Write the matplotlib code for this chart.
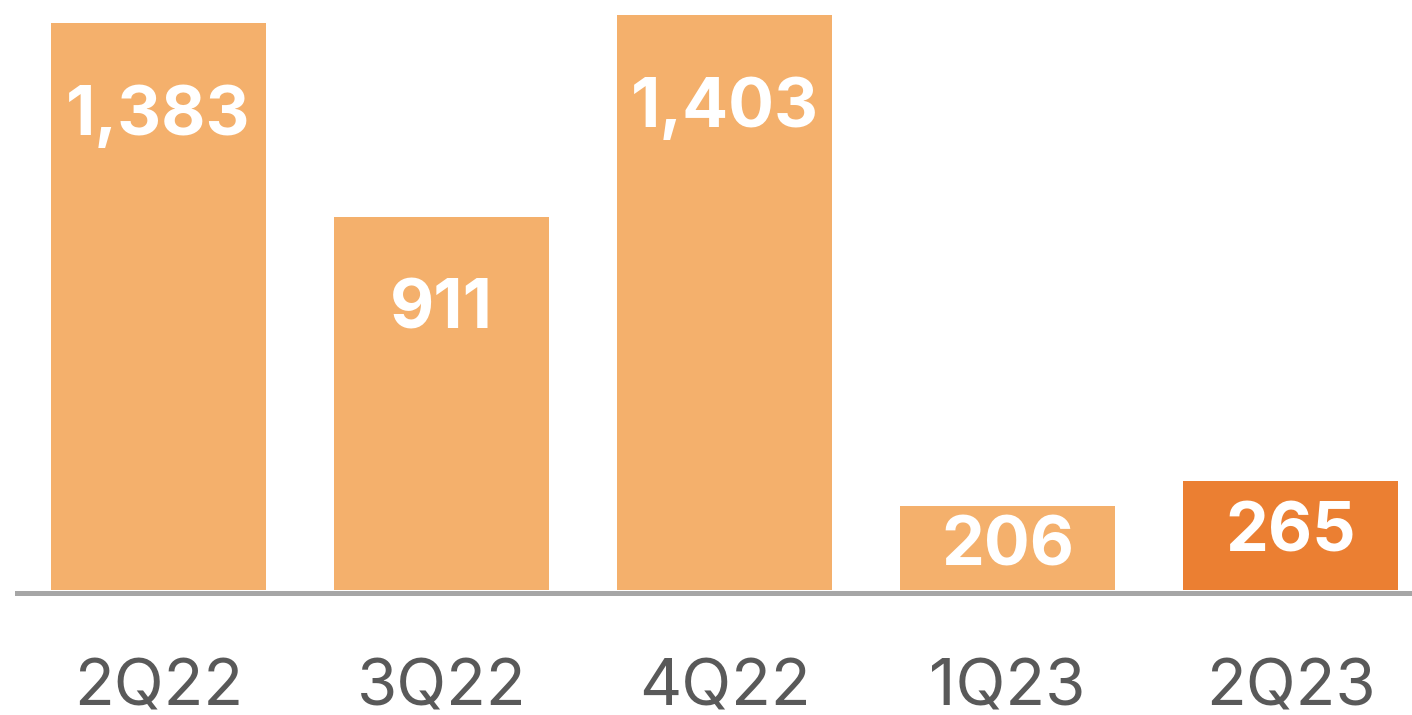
import matplotlib
matplotlib.use("Agg")
import matplotlib.pyplot as plt

categories = ["2Q22", "3Q22", "4Q22", "1Q23", "2Q23"]
values = [1383, 911, 1403, 206, 265]
labels = ["1,383", "911", "1,403", "206", "265"]
colors = ["#F4B06C", "#F4B06C", "#F4B06C", "#F4B06C", "#EB7F32"]

W, H, DPI = 1412, 715, 100
fig = plt.figure(figsize=(W / DPI, H / DPI), dpi=DPI)
plt.rcParams['font.family'] = ['Inter', 'DejaVu Sans']

base_px = 590
ax = fig.add_axes([17 / W, 1 - base_px / H, 1 - 17 / W, base_px / H])
scale = 575 / 1403  # px per unit
ax.set_ylim(0, base_px / scale)
ax.set_xlim(-0.5, (1412 - 158.5) / 283)

ax.bar(range(len(values)), values, width=0.76, color=colors, zorder=3)
ax.axhline(-2.5 / scale, color="#A6A6A6", linewidth=5 * 72 / DPI, clip_on=False, zorder=2)

for i, (v, lab) in enumerate(zip(values, labels)):
    if v > 500:
        ax.annotate(lab, xy=(i, v), xytext=(0, -112 * 72 / DPI), textcoords="offset points",
                    ha="center", va="baseline", color="white", fontsize=49, fontweight="bold",
                    zorder=4)
    else:
        ax.annotate(lab, xy=(i, v * 0.585), xytext=(0, -25 * 72 / DPI), textcoords="offset points",
                    ha="center", va="baseline", color="white", fontsize=49, fontweight="bold",
                    zorder=4)
    ax.annotate(categories[i], xy=(i, 0), xytext=(0, -115 * 72 / DPI), textcoords="offset points",
                ha="center", va="baseline", color="#595959", fontsize=47, annotation_clip=False)

ax.axis("off")
fig.savefig("out.png", dpi=DPI)
